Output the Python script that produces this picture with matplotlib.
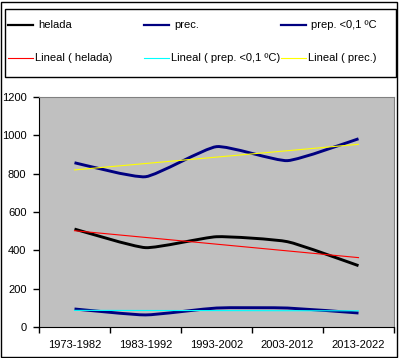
import numpy as np
import matplotlib.pyplot as plt
from matplotlib.path import Path
from matplotlib.patches import PathPatch, Rectangle
from matplotlib.lines import Line2D

plt.rcParams['font.family'] = ['Liberation Sans', 'DejaVu Sans']
plt.rcParams['font.size'] = 8

periods = ['1973-1982', '1983-1992', '1993-2002', '2003-2012', '2013-2022']
helada = [511, 414, 471, 445, 320]
prec = [857, 784, 941, 868, 982]
prep_frio = [94, 63, 99, 99, 73]


def smooth_path(xs, ys, t=12.0):
    # excel style smoothed line: bezier segments through the points
    pts = np.column_stack([xs, ys]).astype(float)
    n = len(pts)
    verts = [pts[0]]
    codes = [Path.MOVETO]
    for i in range(n - 1):
        p0 = pts[max(i - 1, 0)]
        p1 = pts[i]
        p2 = pts[i + 1]
        p3 = pts[min(i + 2, n - 1)]
        c1 = p1 + (p2 - p0) / t
        c2 = p2 - (p3 - p1) / t
        verts += [c1, c2, p2]
        codes += [Path.CURVE4] * 3
    return Path(verts, codes)


fig = plt.figure(figsize=(3.99, 3.58), dpi=100)
ax = fig.add_axes([39 / 399, 1 - 327 / 358, 355 / 399, 230 / 358])
ax.set_facecolor('#C0C0C0')

x = np.arange(len(periods)) + 0.5

series = [(helada, 'black'), (prec, '#000080'), (prep_frio, '#000080')]
for vals, col in series:
    ax.add_patch(PathPatch(smooth_path(x, vals), facecolor='none', edgecolor=col,
                           lw=2.1, capstyle='butt', zorder=3))

# lineas de tendencia
trends = [(helada, 'red'), (prep_frio, 'cyan'), (prec, 'yellow')]
for vals, col in trends:
    k, b = np.polyfit(x, vals, 1)
    ax.plot(x, k * x + b, color=col, lw=0.8, zorder=4)

ax.set_xlim(0, 5)
ax.set_ylim(0, 1200)
ax.set_yticks(range(0, 1201, 200))
ax.set_xticks(range(0, 6))
ax.set_xticklabels([])
ax.set_xticks(x, minor=True)
ax.set_xticklabels(periods, minor=True)
ax.tick_params(axis='x', which='major', direction='out', length=4, width=1, color='black')
ax.tick_params(axis='x', which='minor', length=0, pad=9, labelsize=8)
ax.tick_params(axis='y', direction='out', length=4, width=1, pad=5, labelsize=8)
for s in ['top', 'right']:
    ax.spines[s].set_color('#808080')
for s in ['left', 'bottom']:
    ax.spines[s].set_color('black')

# leyenda a mano, en pixeles de la figura
W, H = 399, 358
fig.patches.append(Rectangle((5 / W, 1 - 77 / H), 391 / W, 68 / H, transform=fig.transFigure,
                             fill=False, edgecolor='black', lw=1))
legend_rows = [
    (25, 5, [('helada', 'black', 1.6), ('prec.', '#000080', 1.6), ('prep. <0,1 ºC', '#000080', 1.6)]),
    (58, 2, [('Lineal ( helada)', 'red', 0.8), ('Lineal ( prep. <0,1 ºC)', 'cyan', 0.8),
             ('Lineal ( prec.)', 'yellow', 0.8)]),
]
col_x = [8, 144, 281]
for ypix, gap, entries in legend_rows:
    for cx, (lab, col, lw) in zip(col_x, entries):
        fig.add_artist(Line2D([cx / W, (cx + 25) / W], [1 - ypix / H, 1 - ypix / H],
                              transform=fig.transFigure, color=col, lw=lw))
        fig.text((cx + 25 + gap) / W, 1 - ypix / H, lab, va='center', ha='left', fontsize=8)

fig.patches.append(Rectangle((1 / W, 1 / H), 396 / W, 355 / H, transform=fig.transFigure,
                             fill=False, edgecolor='black', lw=1))

fig.savefig('out.png', dpi=100)
